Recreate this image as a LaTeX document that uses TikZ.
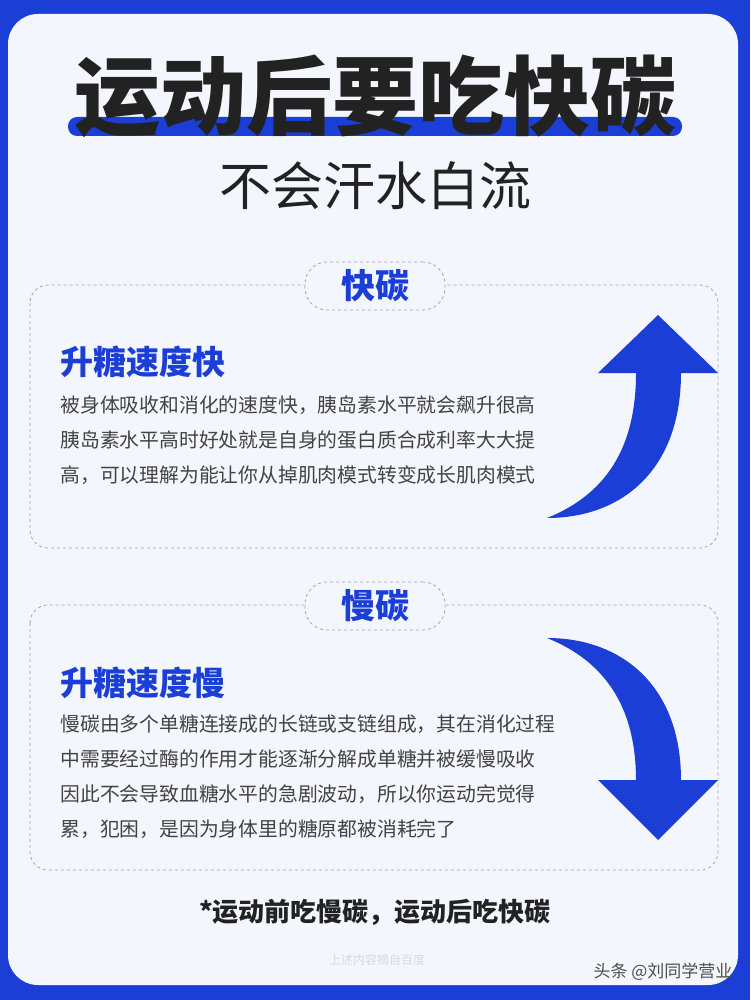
\documentclass[tikz,border=0pt]{standalone}
\usepackage{fontspec}
\setmainfont{Noto Sans CJK SC}
\newfontfamily\cjk{Noto Sans CJK SC}
\usetikzlibrary{positioning}
\definecolor{mainblue}{HTML}{1B3FD6}
\definecolor{panel}{HTML}{F3F6FD}
\definecolor{darktext}{HTML}{222222}
\tikzset{card/.style={draw=gray!70,dashed,rounded corners=18pt,line width=0.8pt},
  tab/.style={draw=gray!70,dashed,fill=panel,rounded corners=22pt,line width=0.8pt,minimum width=140pt,minimum height=48pt,text=mainblue,font=\fontsize{34}{34}\selectfont\bfseries},
  headline/.style={anchor=west,text=mainblue,font=\fontsize{33}{33}\selectfont\bfseries},
  body/.style={anchor=north west,text=darktext!85,align=left,font=\fontsize{19.8}{35}\selectfont},
  bigarrow/.style={fill=mainblue}}
\begin{document}
\begin{tikzpicture}[x=1pt,y=-1pt]
\useasboundingbox (0,0) rectangle (750,1000);
\fill[mainblue] (0,0) rectangle (750,1000);
\fill[panel,rounded corners=30pt] (8,14) rectangle (738,985);
% title
\fill[mainblue,rounded corners=9pt] (68,117) rectangle (682,136);
\node[text=darktext] (title) at (375,96) {\fontsize{86}{86}\selectfont\bfseries 运动后要吃快碳};
\node[text=darktext] (sub) at (375,186) {\fontsize{52}{52}\selectfont 不会汗水白流};
% fast carbs
\draw[card] (30,285) rectangle (718,548);
\node[tab] (fast) at (375,286) {快碳};
\node[headline] (fasthead) at (57,362) {升糖速度快};
\node[body] (fastbody) at (57,392) {被身体吸收和消化的速度快，胰岛素水平就会飙升很高\\胰岛素水平高时好处就是自身的蛋白质合成利率大大提\\高，可以理解为能让你从掉肌肉模式转变成长肌肉模式};
\fill[bigarrow] (547,518) .. controls (612,492) and (636,440) .. (636,373)
  -- (598,373) -- (658,315) -- (718,373) -- (681,373)
  .. controls (681,470) and (622,518) .. cycle;
% slow carbs
\draw[card] (30,605) rectangle (718,870);
\node[tab] (slow) at (375,606) {慢碳};
\node[headline] (slowhead) at (57,683) {升糖速度慢};
\node[body] (slowbody) at (57,711) {慢碳由多个单糖连接成的长链或支链组成，其在消化过程\\中需要经过酶的作用才能逐渐分解成单糖并被缓慢吸收\\因此不会导致血糖水平的急剧波动，所以你运动完觉得\\累，犯困，是因为身体里的糖原都被消耗完了};
\fill[bigarrow] (547,638) .. controls (612,664) and (636,716) .. (636,780)
  -- (598,780) -- (658,840) -- (718,780) -- (681,780)
  .. controls (681,686) and (622,638) .. cycle;
% footer
\node[text=darktext] (foot) at (375,912) {\fontsize{26}{26}\selectfont\bfseries 
*运动前吃慢碳，运动后吃快碳};
\node[text=gray!30] (src) at (377,960) {\fontsize{12}{12}\selectfont 上述内容摘自百度};
\node[text=darktext!80,anchor=east] (mark) at (736,972) {\fontsize{17}{17}\selectfont 头条 @刘同学营业};
\end{tikzpicture}
\end{document}
